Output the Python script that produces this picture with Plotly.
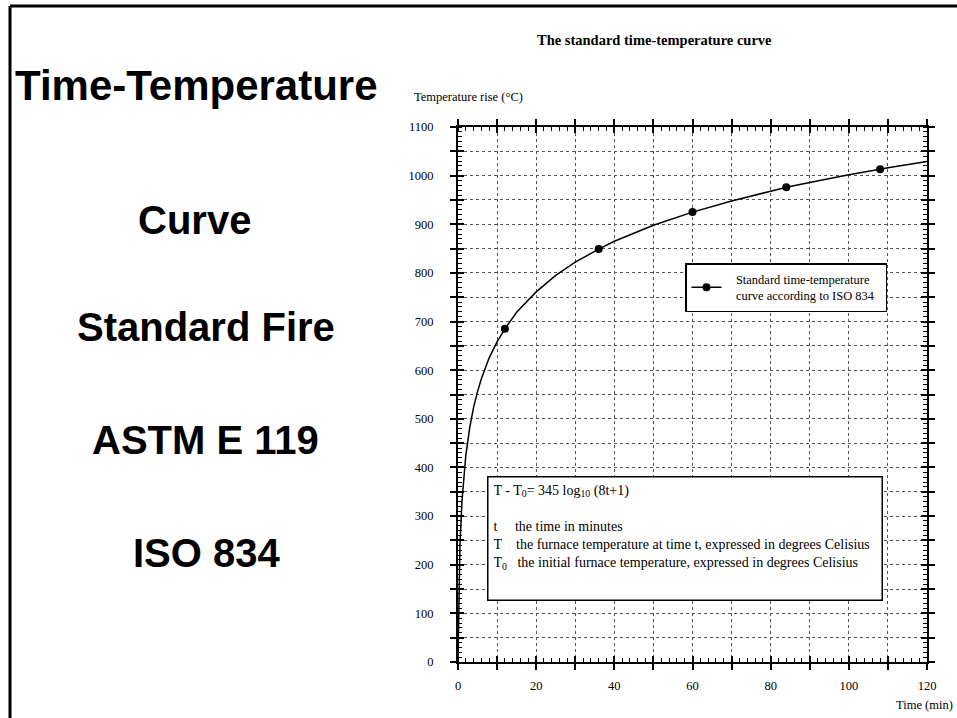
import plotly.graph_objects as go

# ---- data ----
time_min = [0, 0.25, 0.5, 1, 1.5, 2, 3, 4, 5, 6, 8, 10, 12, 15, 20, 25, 30, 36, 40,
            45, 50, 60, 70, 80, 84, 90, 100, 108, 110, 120]
temp_rise = [0, 165, 241, 329, 384, 425, 482, 524, 556, 583, 626, 658, 685, 719, 761,
             795, 822, 849, 865, 882, 898, 925, 948, 968, 976, 986, 1002, 1013, 1016, 1029]

marker_time = [12, 36, 60, 84, 108]
marker_temp = [685, 849, 925, 976, 1013]

x_tick_vals = [0, 10, 20, 30, 40, 50, 60, 70, 80, 90, 100, 110, 120]
x_tick_text = ["0", "", "20", "", "40", "", "60", "", "80", "", "100", "", "120"]
y_tick_vals = [0, 50, 100, 150, 200, 250, 300, 350, 400, 450, 500, 550, 600, 650,
               700, 750, 800, 850, 900, 950, 1000, 1050, 1100]
y_tick_text = ["0", "", "100", "", "200", "", "300", "", "400", "", "500", "", "600", "",
               "700", "", "800", "", "900", "", "1000", "", "1100"]

NB = "\u00a0"
legend_name = (NB * 3 + "Standard time-temperature<br>" + NB * 3 +
               "curve according to ISO 834" + NB * 2)
chart_title = "The standard time-temperature curve"
y_title = "Temperature rise (°C)"
x_title = "Time (min)"
side_texts = ["Time-Temperature", "Curve", "Standard Fire", "ASTM E 119", "ISO 834"]
formula_lines = [
    "T - T<sub>0</sub>= 345 log<sub>10</sub> (8t+1)",
    "",
    "t" + NB * 5 + "the time in minutes",
    "T" + NB * 4 + "the furnace temperature at time t, expressed in degrees Celisius",
    "T<sub>0</sub>" + NB * 3 + "the initial furnace temperature, expressed in degrees Celisius",
]

SERIF = "Liberation Serif"
SANS = "Liberation Sans"
W, H = 957, 718

fig = go.Figure()
fig.add_trace(go.Scatter(x=time_min, y=temp_rise, mode="lines",
                         line=dict(color="black", width=1.5), showlegend=False,
                         hoverinfo="skip"))
fig.add_trace(go.Scatter(x=marker_time, y=marker_temp, mode="markers",
                         marker=dict(color="black", size=8), showlegend=False,
                         xaxis="x2", yaxis="y2"))
fig.add_trace(go.Scatter(x=[None], y=[None], mode="lines+markers", name=legend_name,
                         line=dict(color="black", width=1.5),
                         marker=dict(color="black", size=8)))

dom_x = [458 / W, 927 / W]
dom_y = [(H - 662) / H, (H - 127) / H]
tickfont = dict(family=SERIF, size=12.5, color="black")

fig.update_layout(
    width=W, height=H,
    margin=dict(l=0, r=0, t=0, b=0, pad=0, autoexpand=False),
    paper_bgcolor="white", plot_bgcolor="white",
    xaxis=dict(domain=dom_x, range=[0, 120], tickmode="array",
               tickvals=x_tick_vals, ticktext=x_tick_text,
               ticks="outside", ticklen=6, tickwidth=1.5, tickcolor="black",
               showline=True, linecolor="black", linewidth=2, mirror="ticks",
               showgrid=True, gridcolor="#555", griddash="dot", gridwidth=1,
               zeroline=False, tickfont=tickfont, ticklabelstandoff=5,
               automargin=False,
               minor=dict(tickmode="linear", tick0=0, dtick=2, ticks="inside",
                          ticklen=4, tickwidth=1, tickcolor="black", showgrid=False),
               anchor="y", fixedrange=True),
    yaxis=dict(domain=dom_y, range=[0, 1100], tickmode="array",
               tickvals=y_tick_vals, ticktext=y_tick_text,
               ticks="outside", ticklen=6, tickwidth=1.5, tickcolor="black",
               showline=True, linecolor="black", linewidth=2, mirror="ticks",
               showgrid=True, gridcolor="#555", griddash="dot", gridwidth=1,
               zeroline=False, tickfont=tickfont, ticklabelstandoff=14,
               automargin=False,
               minor=dict(tickmode="linear", tick0=0, dtick=10, ticks="inside",
                          ticklen=4, tickwidth=1, tickcolor="black", showgrid=False),
               anchor="x", fixedrange=True),
    xaxis2=dict(overlaying="x", range=[0, 120], tickmode="array", tickvals=x_tick_vals,
                showticklabels=False, ticks="inside", ticklen=6, tickwidth=1.5,
                tickcolor="black", mirror="ticks", showline=False, showgrid=False,
                zeroline=False, anchor="y2", fixedrange=True, automargin=False),
    yaxis2=dict(overlaying="y", range=[0, 1100], tickmode="array", tickvals=y_tick_vals,
                showticklabels=False, ticks="inside", ticklen=6, tickwidth=1.5,
                tickcolor="black", mirror="ticks", showline=False, showgrid=False,
                zeroline=False, anchor="x2", fixedrange=True, automargin=False),
    legend=dict(x=685 / W, y=(H - 263) / H, xanchor="left", yanchor="top",
                bgcolor="white", bordercolor="black", borderwidth=1.5,
                font=dict(family=SERIF, size=12.5, color="black")),
    showlegend=True,
)

annotations = []
# left slide texts
side_pos = [(196, 86), (194, 220), (206, 327), (205, 440), (207, 553)]
side_sizes = [42, 40, 40, 40, 40]
for txt, (px, py), fs in zip(side_texts, side_pos, side_sizes):
    annotations.append(dict(text=txt, x=px / W, y=1 - py / H, xref="paper", yref="paper",
                            xanchor="center", yanchor="middle", showarrow=False,
                            font=dict(family=SANS, size=fs, color="black", weight="bold")))
annotations.append(dict(text=chart_title, x=654 / W, y=1 - 40 / H, xref="paper",
                        yref="paper", xanchor="center", yanchor="middle", showarrow=False,
                        font=dict(family=SERIF, size=14.5, color="black", weight="bold")))
annotations.append(dict(text=y_title, x=412 / W, y=1 - 97 / H, xref="paper", yref="paper",
                        xanchor="left", yanchor="middle", showarrow=False,
                        font=dict(family=SERIF, size=12.5, color="black")))
annotations.append(dict(text=x_title, x=955 / W, y=1 - 705 / H, xref="paper", yref="paper",
                        xanchor="right", yanchor="middle", showarrow=False,
                        font=dict(family=SERIF, size=12.5, color="black")))
annotations.append(dict(text="<br>".join(formula_lines), x=487 / W, y=1 - 476 / H,
                        xref="paper", yref="paper", xanchor="left", yanchor="top",
                        showarrow=False, align="left", valign="top",
                        width=383, height=112, borderpad=5, borderwidth=1.5,
                        bordercolor="black", bgcolor="white",
                        font=dict(family=SERIF, size=14, color="black")))
fig.update_layout(annotations=annotations)

# slide frame lines
fig.add_shape(type="line", xref="paper", yref="paper", x0=10 / W, x1=1, y0=1 - 6 / H,
              y1=1 - 6 / H, line=dict(color="black", width=3))
fig.add_shape(type="line", xref="paper", yref="paper", x0=10 / W, x1=10 / W, y0=0,
              y1=1 - 6 / H, line=dict(color="black", width=3))

fig.write_html("out.html",
               config={"displayModeBar": False},
               post_script="document.body.style.margin='0';"
                           "document.body.style.overflow='hidden';")
